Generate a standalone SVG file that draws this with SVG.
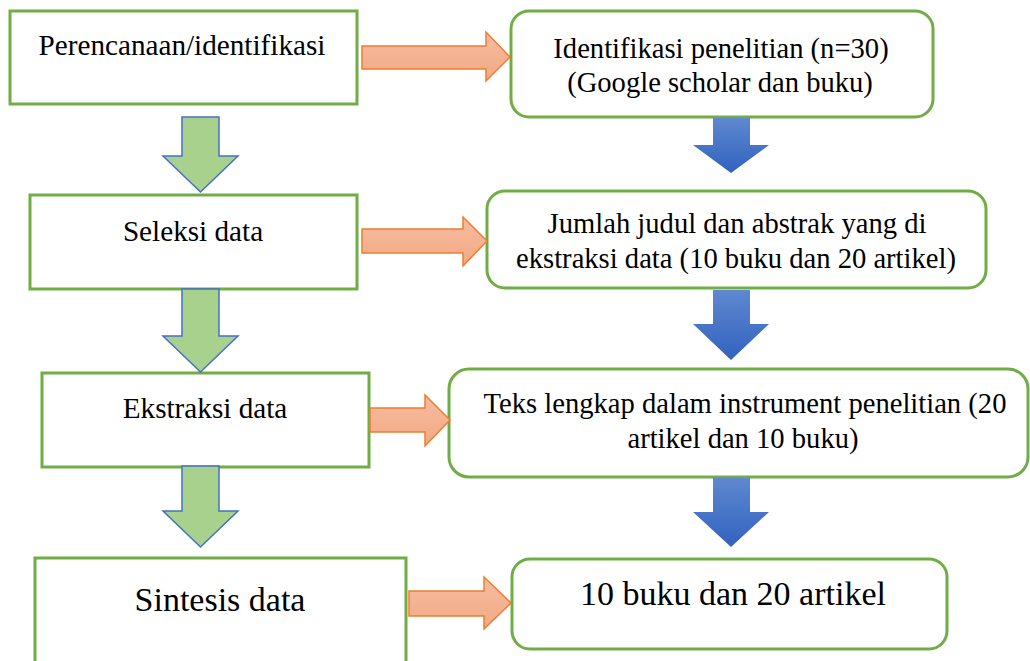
<svg xmlns="http://www.w3.org/2000/svg" width="1030" height="661" viewBox="0 0 1030 661">
<defs>
<linearGradient id="gBlue" x1="0" y1="0" x2="0" y2="1">
<stop offset="0" stop-color="#5f88cf"/>
<stop offset="1" stop-color="#3162bf"/>
</linearGradient>
<linearGradient id="gOrange" x1="0" y1="0" x2="0" y2="1">
<stop offset="0" stop-color="#f7bca1"/>
<stop offset="1" stop-color="#f2a983"/>
</linearGradient>
</defs>
<style>
.box{fill:#ffffff;stroke:#70ad47;stroke-width:3}
.t{font-family:"Liberation Serif","DejaVu Serif",serif;fill:#000000;text-anchor:middle}
.s28{font-size:28.6px}
.s29{font-size:29.2px}
.s34{font-size:34px}
.ora{fill:url(#gOrange);stroke:#ed7d31;stroke-width:1.5;stroke-linejoin:miter}
.grn{fill:#a9d18e;stroke:#4472c4;stroke-width:1.5}
.blu{fill:url(#gBlue);stroke:none}
</style>
<rect width="1030" height="661" fill="#ffffff"/>

<g id="node-perencanaan">
<rect class="box" x="10" y="11" width="347" height="93"/>
<text class="t s29" x="182" y="55">Perencanaan/identifikasi</text>
</g>
<g id="node-identifikasi">
<rect class="box" x="511" y="11" width="422" height="106" rx="18"/>
<text class="t s28" x="721" y="58">Identifikasi penelitian (n=30)</text>
<text class="t s28" x="720" y="92">(Google scholar dan buku)</text>
</g>
<g id="node-seleksi">
<rect class="box" x="30" y="195" width="327" height="94"/>
<text class="t s29" x="193" y="241">Seleksi data</text>
</g>
<g id="node-jumlah">
<rect class="box" x="487" y="191" width="499" height="97" rx="18"/>
<text class="t s28" x="737" y="233">Jumlah judul dan abstrak yang di</text>
<text class="t s28" x="736" y="268">ekstraksi data (10 buku dan 20 artikel)</text>
</g>
<g id="node-ekstraksi">
<rect class="box" x="42" y="373" width="327" height="94"/>
<text class="t s29" x="205" y="418">Ekstraksi data</text>
</g>
<g id="node-teks">
<rect class="box" x="449" y="369" width="579" height="108" rx="20"/>
<text class="t s28" x="745" y="413">Teks lengkap dalam instrument penelitian (20</text>
<text class="t s28" x="743" y="448">artikel dan 10 buku)</text>
</g>
<g id="node-sintesis">
<rect class="box" x="35" y="558" width="371" height="115"/>
<text class="t s34" x="220" y="611">Sintesis data</text>
</g>
<g id="node-hasil">
<rect class="box" x="512" y="559" width="435" height="90" rx="18"/>
<text class="t s34" x="733" y="605">10 buku dan 20 artikel</text>
</g>

<g id="connectors">
<polygon class="ora" points="362,46 486,46 486,32 510,57 486,81 486,69 362,69"/>
<polygon class="ora" points="362,229 463,229 463,217 487,241 463,266 463,253 362,253"/>
<polygon class="ora" points="370,408 425,408 425,395 450,420 425,446 425,432 370,432"/>
<polygon class="ora" points="409,591 484,591 484,577 511,603 484,629 484,616 409,616"/>
<polygon class="grn" points="182,117 219,117 219,156 238,156 200.5,192 163,156 182,156"/>
<polygon class="grn" points="182,289 219,289 219,336 238,336 200.5,372 163,336 182,336"/>
<polygon class="grn" points="182,466 219,466 219,511 238,511 200.5,547 163,511 182,511"/>
<polygon class="blu" points="713,118 750,118 750,145 769,145 731,173 693,145 713,145"/>
<polygon class="blu" points="713,290 750,290 750,324 769,324 731,360 693,324 713,324"/>
<polygon class="blu" points="713,478 750,478 750,512 769,512 731,547 693,512 713,512"/>
</g>
</svg>
